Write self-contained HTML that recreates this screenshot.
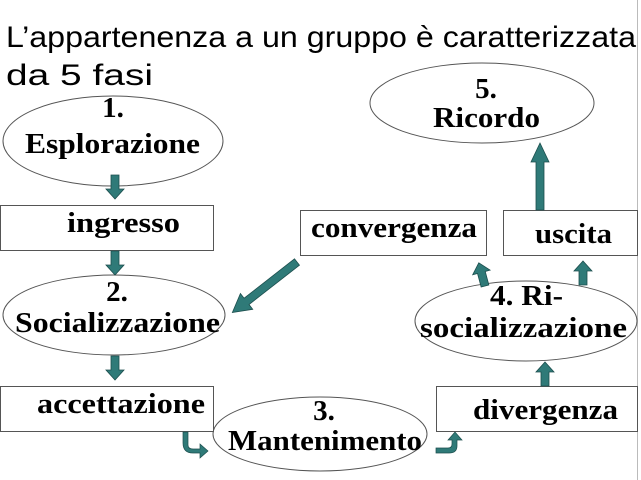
<!DOCTYPE html>
<html><head><meta charset="utf-8"><style>
html,body{margin:0;padding:0;background:#fff;width:641px;height:480px;overflow:hidden}
svg{display:block}
.t{font-family:"Liberation Serif",serif;font-weight:bold;font-size:29px;fill:#000;text-anchor:middle}
</style></head><body>
<svg width="641" height="480" viewBox="0 0 641 480">
<defs>
<g id="dn"><polygon points="-4,0 4,0 4,14 9,14 0,24 -9,14 -4,14" fill="#2f7a78" stroke="#1c4e4d" stroke-width="0.8"/></g>
</defs>
<line x1="637.5" y1="0" x2="637.5" y2="480" stroke="#bbb" stroke-width="1"/>
<text x="6" y="47" font-family="'Liberation Sans',sans-serif" font-size="30" textLength="630" lengthAdjust="spacingAndGlyphs">L’appartenenza a un gruppo è caratterizzata</text>
<text x="6" y="85" font-family="'Liberation Sans',sans-serif" font-size="30" textLength="147" lengthAdjust="spacingAndGlyphs">da 5 fasi</text>

<g fill="#fff" stroke="#555" stroke-width="1">
<ellipse cx="113" cy="141" rx="110" ry="45"/>
<ellipse cx="482" cy="103" rx="112" ry="40"/>
<ellipse cx="114" cy="315" rx="111" ry="40"/>
<ellipse cx="320" cy="434" rx="107" ry="37"/>
<ellipse cx="526" cy="321" rx="111" ry="40"/>
<rect x="0.5" y="205.5" width="213" height="45"/>
<rect x="0.5" y="386.5" width="213" height="45"/>
<rect x="300.5" y="210.5" width="186" height="45"/>
<rect x="503.5" y="210.5" width="134" height="45"/>
<rect x="436.5" y="386.5" width="201" height="45"/>
</g>

<use href="#dn" x="115" y="175"/>
<use href="#dn" x="115" y="251"/>
<use href="#dn" x="115" y="356"/>
<use href="#dn" transform="translate(545,386) rotate(180)"/>
<use href="#dn" transform="translate(583,285) rotate(180)"/>
<use href="#dn" transform="translate(485,286) rotate(165)"/>
<polygon points="536,210 544,210 544,162 549,162 540,143 531,162 536,162" fill="#2f7a78" stroke="#1c4e4d" stroke-width="0.8"/>
<g transform="translate(297,262) rotate(52)">
<polygon points="-4,0 4,0 4,64 10,64 0,82 -10,64 -4,64" fill="#2f7a78" stroke="#1c4e4d" stroke-width="0.8"/>
</g>
<path d="M185,433 L185,446 Q185,450 190,450 L197,450 L197,445 L205,452 L197,459 L197,454 L190,454 Q180,454 180,444 L180,433 Z" fill="#2f7a78" stroke="#1c4e4d" stroke-width="0.7" transform="translate(3,-1)"/>
<path d="M436,448 L448,448 Q452,448 452,444 L452,440 L448,440 L455,432 L462,440 L457,440 L457,446 Q457,453 449,453 L436,453 Z" fill="#2f7a78" stroke="#1c4e4d" stroke-width="0.7"/>

<text class="t" x="113" y="117">1.</text>
<text class="t" x="25" y="153" style="text-anchor:start" textLength="175" lengthAdjust="spacingAndGlyphs">Esplorazione</text>
<text class="t" x="486" y="98">5.</text>
<text class="t" x="433" y="127" style="text-anchor:start" textLength="107" lengthAdjust="spacingAndGlyphs">Ricordo</text>
<text class="t" x="67" y="232" style="text-anchor:start" textLength="113" lengthAdjust="spacingAndGlyphs">ingresso</text>
<text class="t" x="117" y="301">2.</text>
<text class="t" x="15" y="332" style="text-anchor:start" textLength="205" lengthAdjust="spacingAndGlyphs">Socializzazione</text>
<text class="t" x="37" y="413" style="text-anchor:start" textLength="168" lengthAdjust="spacingAndGlyphs">accettazione</text>
<text class="t" x="324" y="420">3.</text>
<text class="t" x="228" y="450" style="text-anchor:start" textLength="194" lengthAdjust="spacingAndGlyphs">Mantenimento</text>
<text class="t" x="311" y="237" style="text-anchor:start" textLength="166" lengthAdjust="spacingAndGlyphs">convergenza</text>
<text class="t" x="535" y="243" style="text-anchor:start" textLength="77" lengthAdjust="spacingAndGlyphs">uscita</text>
<text class="t" x="473" y="419" style="text-anchor:start" textLength="145" lengthAdjust="spacingAndGlyphs">divergenza</text>
<text class="t" x="490" y="305" style="text-anchor:start" textLength="73" lengthAdjust="spacingAndGlyphs">4. Ri-</text>
<text class="t" x="420" y="337" style="text-anchor:start" textLength="207" lengthAdjust="spacingAndGlyphs">socializzazione</text>
</svg>
</body></html>
